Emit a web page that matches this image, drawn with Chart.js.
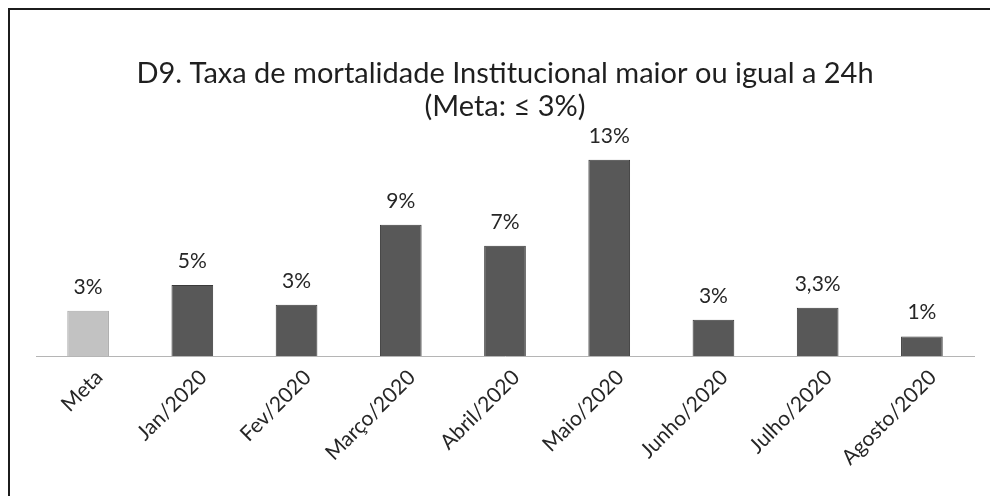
<!DOCTYPE html>
<html>
<head>
<meta charset="utf-8">
<script src="https://cdn.jsdelivr.net/npm/chart.js@4/dist/chart.umd.min.js"></script>
<style>
  html, body { margin: 0; padding: 0; background: #fff; overflow: hidden; }
  #box {
    position: absolute; left: 8px; top: 8px;
    width: 994px; height: 524px;
    border: 2px solid #1c1c1c; box-sizing: border-box;
  }
  canvas { display: block; }
</style>
</head>
<body>
<div id="box"><canvas id="chart" width="990" height="520"></canvas></div>
<script>
// categories and values
let categories = ['Meta', 'Jan/2020', 'Fev/2020', 'Março/2020', 'Abril/2020', 'Maio/2020', 'Junho/2020', 'Julho/2020', 'Agosto/2020']
let rates = [3, 4.7, 3.4, 8.7, 7.3, 13, 2.4, 3.2, 1.3]
let rateLabels = ['3%', '5%', '3%', '9%', '7%', '13%', '3%', '3,3%', '1%']
let titleLines = ['D9. Taxa de mortalidade Institucional maior ou igual a 24h', '(Meta: ≤ 3%)']

let barColors = categories.map((c, i) => i === 0 ? '#c2c2c2' : '#585858')
let barBorders = categories.map((c, i) => i === 0 ? '#a9a9a9' : '#3a3a3a')

// draw the value text above each bar
let valueLabels = {
    id: 'valueLabels',
    afterDatasetsDraw(chart) {
        let ctx = chart.ctx
        let meta = chart.getDatasetMeta(0)
        ctx.save()
        ctx.font = '21px Lato'
        ctx.fillStyle = '#262626'
        ctx.textAlign = 'center'
        ctx.textBaseline = 'alphabetic'
        meta.data.forEach((bar, i) => {
            ctx.fillText(rateLabels[i], bar.x, bar.y - 17)
        })
        ctx.restore()
    }
}

new Chart(document.getElementById('chart'), {
    type: 'bar',
    data: {
        labels: categories,
        datasets: [{
            data: rates,
            backgroundColor: barColors,
            borderColor: barBorders,
            borderWidth: 1,
            barPercentage: 0.4,
            categoryPercentage: 1
        }]
    },
    options: {
        responsive: false,
        animation: false,
        layout: { padding: { left: 26, right: 26, top: 0, bottom: 0 } },
        scales: {
            x: {
                grid: { display: false, drawTicks: false },
                border: { display: true, color: '#b5b5b5', width: 1, dash: [2, 2] },
                ticks: {
                    color: '#262626',
                    font: { family: 'Lato', size: 21 },
                    minRotation: 45,
                    maxRotation: 45,
                    padding: 9,
                    labelOffset: 11
                },
                afterFit: scale => { scale.height = 174 }
            },
            y: {
                display: false,
                min: 0,
                max: 14
            }
        },
        plugins: {
            legend: { display: false },
            tooltip: { enabled: false },
            title: {
                display: true,
                text: titleLines,
                color: '#1f1f1f',
                font: { family: 'Lato', size: 29, weight: 'normal', lineHeight: 1.15 },
                padding: { top: 47, bottom: 21 }
            }
        }
    },
    plugins: [valueLabels]
})
</script>
</body>
</html>
